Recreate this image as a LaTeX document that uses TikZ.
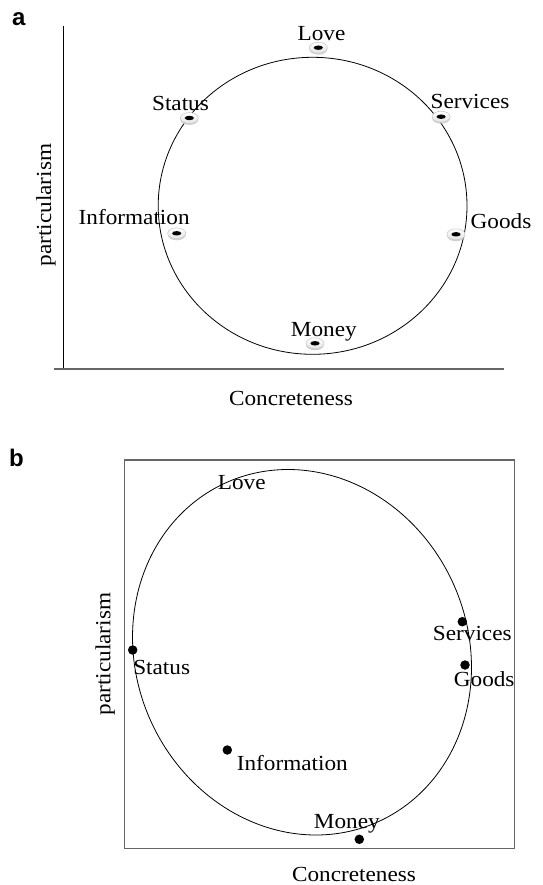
\documentclass[tikz,border=0pt]{standalone}
\usepackage{fontspec}
\setmainfont{Liberation Serif}[FakeStretch=1.08]
\newfontfamily\panelfont{Liberation Sans}
\usetikzlibrary{shapes.geometric,shadows}
\begin{document}
\begin{tikzpicture}[x=1pt,y=-1pt,
  lbl/.style={font=\fontsize{21.5}{25}\selectfont, inner sep=0pt, anchor=base},
  axislbl/.style={font=\fontsize{21.5}{25}\selectfont, inner sep=0pt},
  panel/.style={font=\panelfont\bfseries\fontsize{24}{28}\selectfont, inner sep=0pt, anchor=base west},
  bead/.style={ellipse, minimum width=18pt, minimum height=11pt, inner sep=0pt,
    draw=gray!40, line width=0.6pt, top color=white, bottom color=gray!22,
    drop shadow={shadow xshift=0pt, shadow yshift=-1.5pt, fill=gray!45, opacity=0.8},
    path picture={\fill[black] (path picture bounding box.center) ellipse [x radius=4.6pt, y radius=2.2pt];}},
  spot/.style={circle, fill=black, minimum size=9.5pt, inner sep=0pt},
  ring/.style={line width=0.8pt},
  frameline/.style={draw=black!60, line width=1.3pt}]
\useasboundingbox (0,0) rectangle (542,885);

% ---------- panel a ----------
\node[panel] (pa) at (12,26) {a};
\coordinate (ytop) at (63.2,26);
\coordinate (origin) at (63.2,369);
\coordinate (xleft) at (53.5,369);
\coordinate (xright) at (504.3,369);
\draw[line width=0.8pt] (ytop) -- (origin);
\draw[black!60, line width=2pt] (xleft) -- (xright);
\draw[ring] (312.6,205.8) ellipse [x radius=154.4, y radius=148.5];

\node[bead] (aLove) at (318.3,47.7) {};
\node[bead] (aStatus) at (189.3,118) {};
\node[bead] (aServices) at (441.1,116.7) {};
\node[bead] (aInfo) at (176.7,233.3) {};
\node[bead] (aGoods) at (456,234.3) {};
\node[bead] (aMoney) at (315,343.3) {};

\node[lbl] (tLoveA) at (321.5,41) {Love};
\node[lbl] (tStatusA) at (180.5,110.5) {Status};
\node[lbl] (tServicesA) at (470,108.3) {Services};
\node[lbl] (tInfoA) at (134.2,225) {Information};
\node[lbl] (tGoodsA) at (501,228.3) {Goods};
\node[lbl] (tMoneyA) at (323.8,336) {Money};

\node[lbl] (xA) at (291,405.5) {Concreteness};
\node[axislbl, rotate=90] (yA) at (46,205) {particularism};

% ---------- panel b ----------
\node[panel] (pb) at (9,466) {b};
\draw[frameline] (124.3,460) rectangle (514.3,848.3);
\draw[ring] plot[domain=0:360, samples=181, smooth, variable=\t]
  ({302+168.9*cos(\t)+14*sin(\t)}, {652.25+182.75*sin(\t)}) -- cycle;

\node[spot] (bStatus) at (132.7,650) {};
\node[spot] (bServices) at (462.3,621.7) {};
\node[spot] (bGoods) at (465,665) {};
\node[spot] (bInfo) at (227.3,750) {};
\node[spot] (bMoney) at (359.3,839.3) {};

\node[lbl] (tLoveB) at (241.7,489.3) {Love};
\node[lbl] (tStatusB) at (161.7,674.3) {Status};
\node[lbl] (tServicesB) at (472.3,640.7) {Services};
\node[lbl] (tGoodsB) at (484.2,686) {Goods};
\node[lbl] (tInfoB) at (292.3,770.7) {Information};
\node[lbl] (tMoneyB) at (346.8,828.3) {Money};

\node[lbl] (xB) at (354,881) {Concreteness};
\node[axislbl, rotate=90] (yB) at (105.3,654) {particularism};
\end{tikzpicture}
\end{document}
